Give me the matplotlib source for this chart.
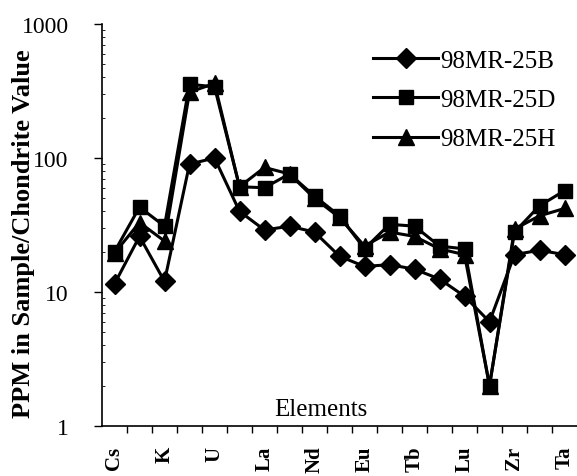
import matplotlib
matplotlib.use("Agg")
import matplotlib.pyplot as plt
from matplotlib.ticker import LogLocator, NullFormatter, FixedLocator

# element order along the x axis (only every other one is labelled)
elements = ["Cs", "Rb", "K", "Th", "U", "Ba", "La", "Ce", "Nd", "Sm",
            "Eu", "Gd", "Tb", "Yb", "Lu", "Sc", "Zr", "Hf", "Ta"]

b_vals = [11.5, 26, 12, 90, 100, 40, 29, 31, 28, 18.5,
          15.5, 16, 14.8, 12.5, 9.3, 6.0, 19, 20.5, 19]
d_vals = [20, 43, 31, 355, 340, 61, 60, 76, 52, 37,
          21, 32, 31, 22, 21, 2.0, 28, 44, 57]
h_vals = [19.5, 33, 24, 310, 360, 61, 85, 76, 50, 36,
          22, 28, 26, 21, 19, 2.0, 29.5, 37, 42]

series = [("98MR-25B", b_vals, "D", 10),
          ("98MR-25D", d_vals, "s", 10.5),
          ("98MR-25H", h_vals, "^", 11)]

plt.rcParams["font.family"] = ["Liberation Serif", "DejaVu Serif"]

fig = plt.figure(figsize=(5.77, 4.77), dpi=100)
ax = fig.add_axes([102 / 577, 1 - 427 / 477, 475 / 577, 402 / 477])

x = list(range(len(elements)))
for name, vals, mk, ms in series:
    ax.plot(x, vals, color="black", linewidth=2.2, marker=mk,
            markersize=ms, markerfacecolor="black",
            markeredgecolor="black", label=name)

ax.set_yscale("log")
ax.set_ylim(1, 1000)
ax.set_xlim(-0.5, len(elements) - 0.5)

ax.yaxis.set_minor_locator(LogLocator(base=10, subs=range(2, 10), numticks=20))
ax.yaxis.set_minor_formatter(NullFormatter())
ax.set_yticks([1, 10, 100, 1000])
ax.set_yticklabels(["1", "10", "100", "1000"], fontsize=17)
ax.tick_params(axis="y", which="major", length=6, width=1, direction="out", pad=18)
ax.tick_params(axis="y", which="minor", length=2, width=0.6, direction="in")

# category labels on every other element, ticks on the category borders
ax.set_xticks(x[::2])
ax.set_xticklabels(elements[::2], rotation=90, fontsize=15, fontweight="bold")
ax.xaxis.set_minor_locator(FixedLocator([i + 0.5 for i in x[:-1]]))
ax.tick_params(axis="x", which="major", length=0, pad=14)
ax.tick_params(axis="x", which="minor", length=5, width=1, direction="out")

for side in ["top", "right"]:
    ax.spines[side].set_visible(False)
ax.spines["left"].set_linewidth(1.2)
ax.spines["bottom"].set_linewidth(1.2)

ax.set_ylabel("PPM in Sample/Chondrite Value", fontsize=19, fontweight="bold")
ax.yaxis.set_label_coords(-0.14, 0.48)
ax.text(0.46, 0.015, "Elements", transform=ax.transAxes, fontsize=18,
        ha="center", va="bottom")

ax.legend(loc="upper left", bbox_to_anchor=(373 / 577, 1 - 50 / 477),
          bbox_transform=fig.transFigure, frameon=False, fontsize=18,
          handlelength=2.6, handletextpad=0.1, labelspacing=0.68,
          borderpad=0, borderaxespad=0)

fig.savefig("out.png", dpi=100)
